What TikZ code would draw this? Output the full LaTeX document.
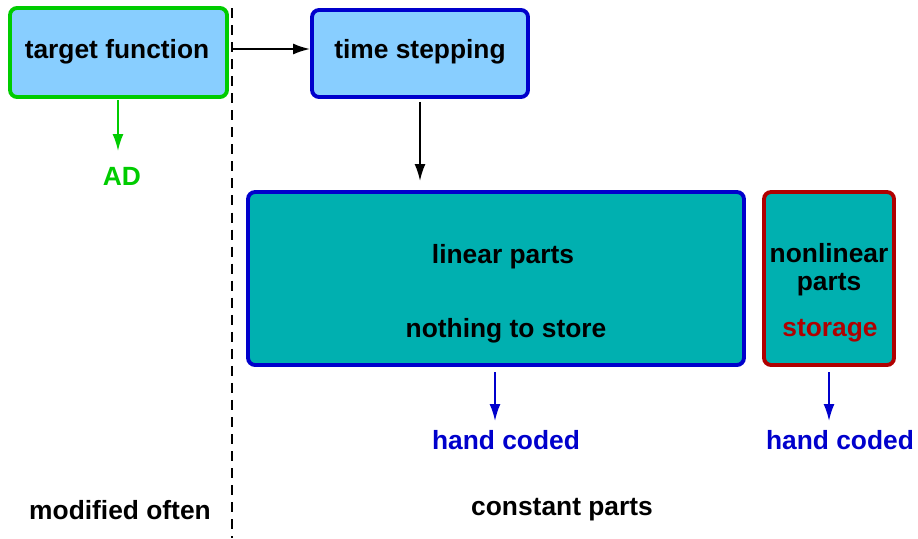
\documentclass[tikz,border=0pt]{standalone}
\usepackage{fontspec}
\setmainfont{Liberation Sans}
\usetikzlibrary{arrows.meta}
\definecolor{boxgreen}{RGB}{0,204,0}
\definecolor{boxblue}{RGB}{0,0,204}
\definecolor{boxred}{RGB}{176,0,0}
\definecolor{lightfill}{RGB}{136,206,255}
\definecolor{tealfill}{RGB}{0,176,176}
\begin{document}
\begin{tikzpicture}[x=0.02cm,y=-0.02cm,
  every node/.style={font=\fontsize{15}{16}\selectfont\bfseries},
  part/.style={draw,line width=2.2pt,rounded corners=0.14cm,inner sep=0pt},
  flow/.style={line width=1.1pt,-{Latex[length=0.34cm,width=0.22cm]}}]
\useasboundingbox (0,0) rectangle (918,538);
% upper row
\node[part,draw=boxgreen,fill=lightfill,minimum width=4.34cm,minimum height=1.78cm] (target) at (118.5,52.5) {};
\node (targettxt) at (117,52) {target function};
\node[part,draw=boxblue,fill=lightfill,minimum width=4.32cm,minimum height=1.74cm] (stepping) at (420,53.5) {};
\node (steppingtxt) at (420,52) {time stepping};
% lower row
\node[part,draw=boxblue,fill=tealfill,minimum width=9.92cm,minimum height=3.46cm] (linear) at (496,278.5) {};
\node (lintxt) at (503,257) {linear parts};
\node (storetxt) at (506,331) {nothing to store};
\node[part,draw=boxred,fill=tealfill,minimum width=2.6cm,minimum height=3.46cm] (nonlinear) at (829,278.5) {};
\node[align=center] (nonlintxt) at (829,270) {nonlinear\\parts};
\node[text=boxred] (storagetxt) at (830,331) {storage};
% labels
\node[text=boxgreen] (ad) at (122,176) {AD};
\node[text=boxblue] (handlin) at (506,440) {hand coded};
\node[text=boxblue] (handnon) at (840,440) {hand coded};
\node (often) at (120,510) {modified often};
\node (constant) at (562,510) {constant parts};
% separator
\coordinate (septop) at (232,8);
\coordinate (sepbot) at (232,538);
\draw[line width=1.1pt,dash pattern=on 5.7pt off 4pt] (septop) -- (sepbot);
% arrows
\coordinate (from) at (232,49);
\draw[flow] (from) -- (stepping.west |- from);
\draw[flow] (stepping.south) ++(0,3) -- (420,181);
\draw[flow,boxgreen] (118,100) -- (118,151);
\draw[flow,boxblue] (495,372) -- (495,421);
\draw[flow,boxblue] (829,372) -- (829,421);
\end{tikzpicture}
\end{document}
